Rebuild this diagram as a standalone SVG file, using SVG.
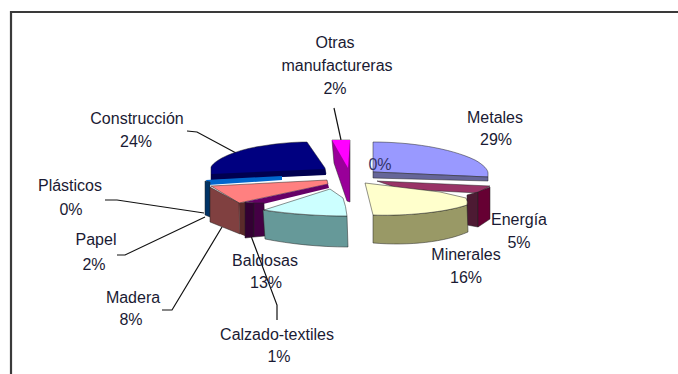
<svg xmlns="http://www.w3.org/2000/svg" width="678" height="374" viewBox="0 0 678 374">
<style>
text{font-family:"Liberation Sans",Arial,sans-serif;font-size:16px;fill:#1a1a33;text-anchor:middle}
.lead{fill:none;stroke:#111;stroke-width:1.2}
.edge{stroke:#222;stroke-width:0.5;stroke-linejoin:round}
</style>
<rect width="678" height="374" fill="#fff"/>
<path d="M11 374 L11 12 L678 12" fill="none" stroke="#3a3a3a" stroke-width="2.2"/>
<g id="connectors">
<path class="lead" d="M334 108 L341 140"/>
<path class="lead" d="M187 131 L197 132 L236 153"/>
<path class="lead" d="M105 200 L117 200 L204 213"/>
<path class="lead" d="M117 255 L125 255 L205 217"/>
<path class="lead" d="M162 310 L172 310 L222 227"/>
<path class="lead" d="M277 320 L277 305 L251 236"/>
</g>
<g id="construccion">
<path class="edge" d="M211 180 L211 167 C216 158 240 149 262 146 C280 143 295 142 307 142 L325 168 L326 174 Z" fill="#000080"/>
<path d="M211 174 L325 169 L326 175 L211 180 Z" fill="#000050"/>
<text x="137" y="124">Construcción</text>
<text x="136" y="147">24%</text>
</g>
<g id="plasticos">
<path d="M206 180 L282 176 L282 180 L208 185 Z" fill="#0066cc"/>
<path class="edge" d="M205 181 L210 182 L210 217 L205 215 Z" fill="#003366"/>
<text x="70" y="191">Plásticos</text>
<text x="71" y="215">0%</text>
</g>
<g id="papel">
<path class="edge" d="M211 186 L327 180 L328 184 L239 203 Z" fill="#ff8080"/>
<path class="edge" d="M210 187 L239 203 L240 234 L210 222 Z" fill="#804040"/>
<path d="M239 203 L245 202 L245 236 L240 234 Z" fill="#5a2a2a"/>
<text x="96" y="245">Papel</text>
<text x="94" y="270">2%</text>
</g>
<g id="madera">
<text x="133" y="303">Madera</text>
<text x="131" y="325">8%</text>
</g>
<g id="calzado">
<path d="M245 202 L328 184 L329 188 L263 204 Z" fill="#660066"/>
<path class="edge" d="M245 202 L254 203 L254 237 L245 238 Z" fill="#330033"/>
<path class="edge" d="M254 203 L264 203 L265 236 L254 237 Z" fill="#440044"/>
<text x="277" y="340">Calzado-textiles</text>
<text x="279" y="362">1%</text>
</g>
<g id="baldosas">
<path class="edge" d="M263 210 C285 214 320 216 347 216 L348 247 C320 247 290 244 265 239 Z" fill="#669999"/>
<path class="edge" d="M264 210 L330 189 L343 198 Q346 206 347 216 C320 216 290 214 264 210 Z" fill="#ccffff"/>
<text x="265" y="266">Baldosas</text>
<text x="266" y="288">13%</text>
</g>
<g id="otras">
<path class="edge" d="M332 140 L350 140 L350 202 L347 201 L334 163 Z" fill="#990099"/>
<path d="M332 140 L350 140 L348 168 Z" fill="#ff00ff"/>
<text x="335" y="48">Otras</text>
<text x="337" y="71">manufactureras</text>
<text x="335" y="94">2%</text>
</g>
<g id="metales">
<path class="edge" d="M373 142 C410 142 450 148 475 160 C484 165 488 170 488 173 L488 177 L373 172 Z" fill="#9999ff"/>
<path class="edge" d="M373 172 L488 177 L488 181 L373 178 Z" fill="#666699"/>
<text x="495" y="123">Metales</text>
<text x="496" y="145">29%</text>
<text x="380" y="170" style="fill:#333366">0%</text>
</g>
<g id="energia">
<path class="edge" d="M377 181 L490 186 L478 193 L400 189 Z" fill="#993366"/>
<path class="edge" d="M467 195 L478 192 L478 227 L467 225 Z" fill="#4d1a33"/>
<path class="edge" d="M478 192 L490 187 L490 219 L478 227 Z" fill="#660033"/>
<text x="519" y="225">Energía</text>
<text x="519" y="248">5%</text>
</g>
<g id="minerales">
<path class="edge" d="M373 215 C395 216 440 214 467 205 L468 232 C445 242 410 246 373 243 Z" fill="#999966"/>
<path class="edge" d="M365 183 L440 192 L466 198 Q468 202 467 205 C440 214 395 216 373 215 Z" fill="#ffffcc"/>
<text x="466" y="260">Minerales</text>
<text x="466" y="283">16%</text>
</g>
</svg>
